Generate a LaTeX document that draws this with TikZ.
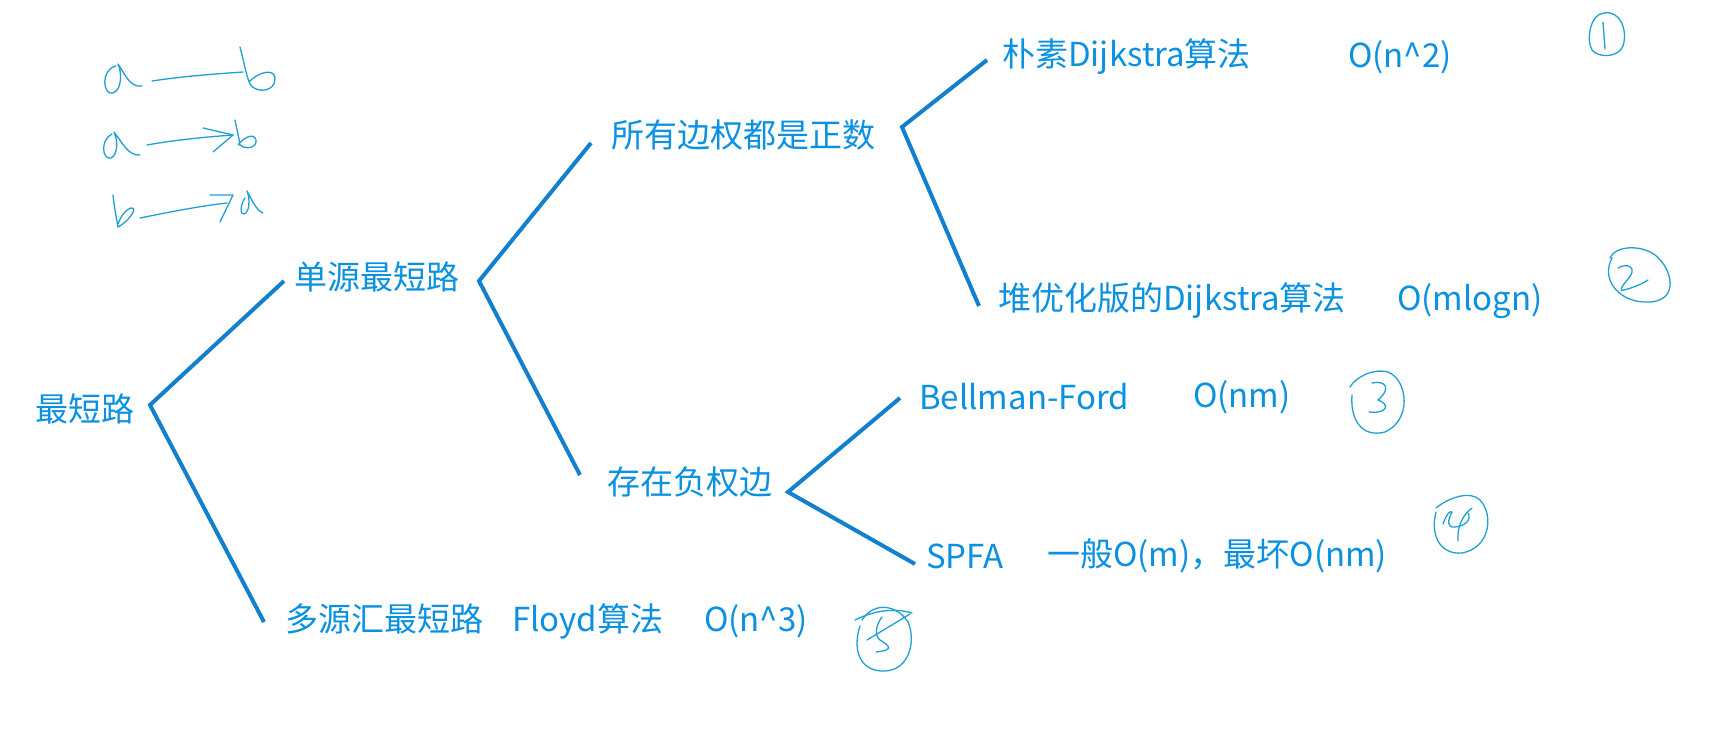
\documentclass[tikz,border=0pt]{standalone}
\usepackage{fontspec}
\setmainfont{Noto Sans CJK SC}
\definecolor{txt}{RGB}{10,145,225}
\definecolor{ln}{RGB}{18,128,206}
\definecolor{hw}{RGB}{30,160,215}
\begin{document}
\begin{tikzpicture}[x=1pt,y=-1pt,
  lbl/.style={anchor=west,text=txt,inner sep=0pt,font=\fontsize{33}{39}\selectfont},
  br/.style={draw=ln,line width=4pt},
  hand/.style={draw=hw,line width=1.3pt,line cap=round,line join=round}]
\useasboundingbox[fill=white] (0,0) rectangle (1725,731);
% text nodes
\node[lbl] (root) at (35,409) {最短路};
\node[lbl] (ss) at (294,277) {单源最短路};
\node[lbl] (pos) at (611,135) {所有边权都是正数};
\node[lbl] (dij1) at (1002,57) {朴素Dijkstra算法};
\node[lbl] (c1) at (1348,57) {O(n\^{}2)};
\node[lbl] (dij2) at (998,301) {堆优化版的Dijkstra算法};
\node[lbl] (c2) at (1397,301) {O(mlogn)};
\node[lbl] (neg) at (607,482) {存在负权边};
\node[lbl] (bf) at (919,397) {Bellman-Ford};
\node[lbl] (c3) at (1193,397) {O(nm)};
\node[lbl] (spfa) at (926,556) {SPFA};
\node[lbl] (c4) at (1047,556) {一般O(m)，最坏O(nm)};
\node[lbl] (ms) at (285,619) {多源汇最短路};
\node[lbl] (fl) at (512,621) {Floyd算法};
\node[lbl] (c5) at (704,621) {O(n\^{}3)};
% branch points
\coordinate (j0) at (150,405);
\coordinate (e1) at (284,281);
\coordinate (e2) at (264,622);
\coordinate (j1) at (479,281);
\coordinate (e3) at (591,143);
\coordinate (e4) at (580,475);
\coordinate (j2) at (902,127);
\coordinate (e5) at (987,60);
\coordinate (e6) at (979,306);
\coordinate (j3) at (788,492);
\coordinate (e7) at (900,398);
\coordinate (e8) at (915,564);
\draw[br] (e1) -- (j0) -- (e2);
\draw[br] (e3) -- (j1) -- (e4);
\draw[br] (e5) -- (j2) -- (e6);
\draw[br] (e7) -- (j3) -- (e8);
% handwritten notes (top left)
\draw[hand] (116,66) .. controls (100,70) and (103,96) .. (113,93) .. controls (122,90) and (122,72) .. (118,64) .. controls (125,74) and (130,88) .. (142,86);
\draw[hand] (152,81) .. controls (185,76) and (215,74) .. (243,72);
\draw[hand] (240,47) .. controls (244,62) and (246,75) .. (250,84) .. controls (256,94) and (276,92) .. (275,78) .. controls (274,68) and (258,72) .. (249,82);
\draw[hand] (112,134) .. controls (100,140) and (102,160) .. (111,158) .. controls (118,155) and (118,140) .. (114,132) .. controls (122,142) and (128,156) .. (140,155);
\draw[hand] (147,145) .. controls (175,140) and (205,137) .. (233,135);
\draw[hand] (203,128) -- (233,135) -- (213,152);
\draw[hand] (235,120) .. controls (237,130) and (239,138) .. (240,145) .. controls (246,150) and (257,148) .. (256,140) .. controls (254,132) and (243,138) .. (238,145);
\draw[hand] (113,195) .. controls (114,205) and (116,216) .. (118,227) .. controls (128,222) and (138,208) .. (132,208) .. controls (126,208) and (120,218) .. (118,224);
\draw[hand] (140,218) .. controls (170,212) and (200,206) .. (227,203);
\draw[hand] (210,195) -- (233,195) -- (220,222);
\draw[hand] (245,198) .. controls (240,205) and (240,215) .. (244,214) .. controls (250,212) and (250,198) .. (247,191) .. controls (252,200) and (256,210) .. (263,213);
% circled numbers
\draw[hand] (1604,13) .. controls (1590,14) and (1586,40) .. (1592,50) .. controls (1598,58) and (1618,58) .. (1623,46) .. controls (1628,30) and (1620,10) .. (1604,13);
\draw[hand] (1603,22) -- (1605,49);
\draw[hand] (1618,268) .. controls (1628,262) and (1638,268) .. (1628,279) .. controls (1622,286) and (1618,292) .. (1624,290) .. controls (1632,288) and (1642,284) .. (1648,280);
\draw[hand] (1612,258) .. controls (1600,280) and (1620,304) .. (1650,302) .. controls (1680,300) and (1672,268) .. (1655,255) .. controls (1640,244) and (1615,246) .. (1610,258);
\draw[hand] (1372,383) .. controls (1385,380) and (1392,388) .. (1378,400) .. controls (1390,404) and (1388,414) .. (1369,412);
\draw[hand] (1350,387) .. controls (1355,378) and (1372,368) .. (1388,372) .. controls (1408,380) and (1412,420) .. (1385,432) .. controls (1362,438) and (1350,420) .. (1352,395);
\draw[hand] (1443,524) .. controls (1446,515) and (1450,510) .. (1452,512) .. controls (1448,520) and (1446,528) .. (1455,527) .. controls (1465,526) and (1472,520) .. (1468,513);
\draw[hand] (1458,541) .. controls (1457,528) and (1462,515) .. (1472,508);
\draw[hand] (1436,508) .. controls (1448,498) and (1470,490) .. (1480,500) .. controls (1494,515) and (1490,548) .. (1462,553) .. controls (1440,555) and (1430,535) .. (1436,512);
\draw[hand] (855,620) .. controls (875,610) and (895,608) .. (912,613);
\draw[hand] (867,640) -- (910,614);
\draw[hand] (882,617) .. controls (876,625) and (874,635) .. (880,640) .. controls (888,645) and (896,650) .. (876,652);
\draw[hand] (860,626) .. controls (852,650) and (860,672) .. (885,671) .. controls (910,670) and (916,640) .. (908,622) .. controls (898,606) and (875,600) .. (862,620);
\end{tikzpicture}
\end{document}
